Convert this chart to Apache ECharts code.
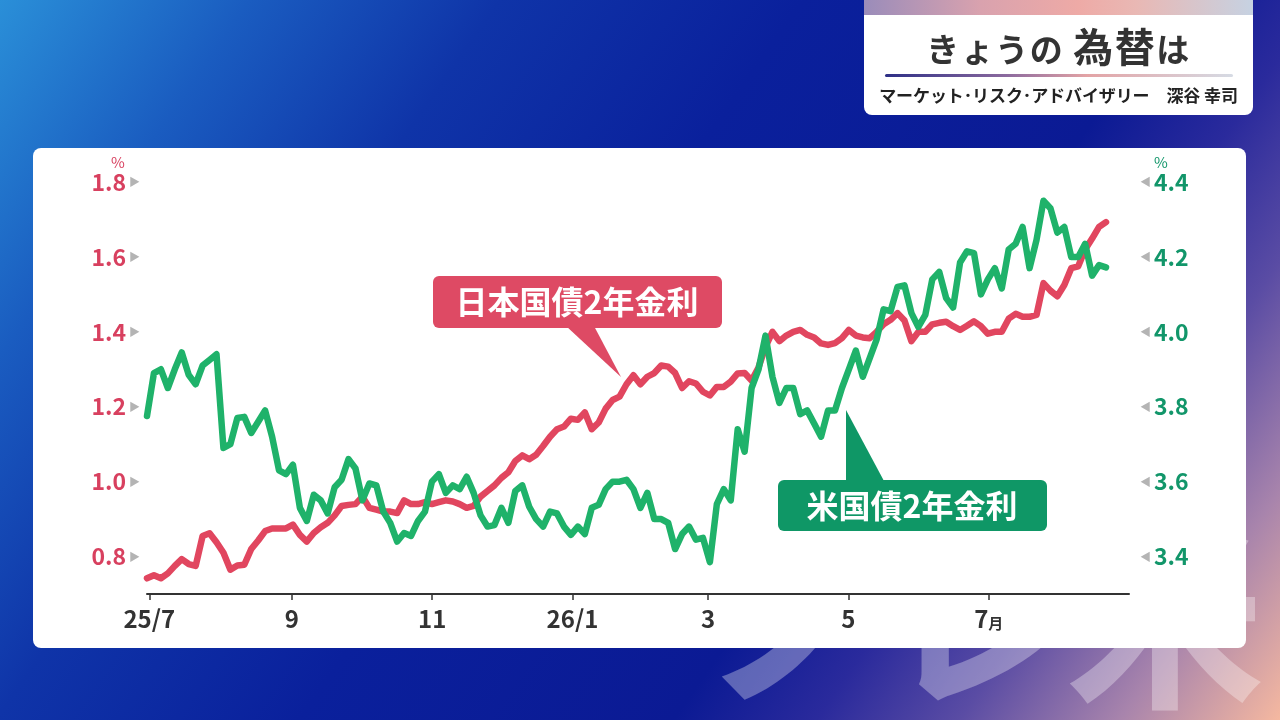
<!DOCTYPE html>
<html lang="ja">
<head>
<meta charset="utf-8">
<title>きょうの為替は</title>
<script src="https://cdn.jsdelivr.net/npm/echarts@6/dist/echarts.min.js"></script>
<style>
  html, body { margin: 0; padding: 0; width: 1280px; height: 720px; overflow: hidden; }
  body {
    position: relative;
    font-family: "Noto Sans CJK JP", "Noto Sans", sans-serif;
    background: linear-gradient(125deg, #2a8fd8 0%, #1a5cc0 14%, #0f34a8 28%, #0a209c 45%,
      #0b1a94 66%, #2a2a9c 74%, #5a4ca4 82%, #a884ac 91%, #f5b8a0 100%);
  }
  .wm { position: absolute; top: 505px; color: rgba(255, 255, 255, 0.32); font-weight: 700; font-size: 200px; line-height: 1; }
  .panel { position: absolute; left: 33px; top: 148px; width: 1213px; height: 500px; background: #fff; border-radius: 8px; }
  #chart { position: absolute; left: 0; top: 0; width: 1280px; height: 720px; }
  .titlebox { position: absolute; left: 864px; top: 0; width: 389px; height: 115px; background: #fff;
    border-radius: 0 0 8px 8px; overflow: hidden; }
  .strip { height: 15px; background: linear-gradient(90deg, #9a8cba 0%, #d9a2ae 30%, #eeaaa6 55%, #e9b8b4 70%, #c6d2e2 100%); }
  .title { position: absolute; top: 22px; left: 0; width: 100%; text-align: center; font-size: 33px;
    font-weight: 700; color: #333; line-height: 46px; letter-spacing: 1.5px; }
  .title .big { font-size: 40px; }
  .rule { position: absolute; left: 21px; top: 74px; width: 348px; height: 3px; border-radius: 2px;
    background: linear-gradient(90deg, #2d2f86 0%, #8c6a9e 35%, #e3a3a5 58%, #d6dbe4 100%); }
  .sub { position: absolute; top: 83px; left: 0; width: 100%; text-align: center; font-size: 17px;
    font-weight: 700; color: #222; line-height: 24px; letter-spacing: -0.1px; }
</style>
</head>
<body>
<div class="wm" style="left:700px;">ノ</div>
<div class="wm" style="left:880px;">レ</div>
<div class="wm" style="left:1065px;">米</div>
<div class="panel"></div>
<div id="chart"></div>
<div class="titlebox">
  <div class="strip"></div>
  <div class="title">きょうの <span class="big">為替</span>は</div>
  <div class="rule"></div>
  <div class="sub">マーケット･リスク･アドバイザリー　深谷 幸司</div>
</div>
<script>
// 日数は2025/7/1からの経過日数
var dayFirst = -1;   // 2025/6/30
var dayLast = 416;   // 2026/8/21

// 日本国債2年金利 (%)
var jgbValues = [
  0.742, 0.75, 0.742, 0.755, 0.775, 0.793, 0.78, 0.775, 0.855, 0.862,
  0.838, 0.81, 0.765, 0.776, 0.778, 0.82, 0.843, 0.868, 0.875, 0.875,
  0.875, 0.885, 0.858, 0.84, 0.863, 0.878, 0.89, 0.91, 0.935, 0.938,
  0.94, 0.96, 0.93, 0.925, 0.92, 0.92, 0.916, 0.95, 0.94, 0.94,
  0.945, 0.94, 0.945, 0.95, 0.947, 0.94, 0.93, 0.935, 0.96, 0.975,
  0.99, 1.01, 1.025, 1.055, 1.07, 1.06, 1.072, 1.095, 1.12, 1.14,
  1.147, 1.168, 1.165, 1.185, 1.14, 1.158, 1.195, 1.218, 1.227, 1.26,
  1.284, 1.26, 1.28, 1.29, 1.31, 1.307, 1.29, 1.25, 1.268, 1.262,
  1.24, 1.23, 1.253, 1.253, 1.267, 1.289, 1.29, 1.27, 1.305, 1.36,
  1.40, 1.375, 1.39, 1.40, 1.405, 1.392, 1.385, 1.369, 1.365, 1.37,
  1.383, 1.405, 1.39, 1.385, 1.383, 1.40, 1.42, 1.432, 1.45, 1.43,
  1.375, 1.40, 1.40, 1.42, 1.424, 1.427, 1.415, 1.405, 1.416, 1.428,
  1.415, 1.395, 1.40, 1.40, 1.435, 1.448, 1.44, 1.44, 1.445, 1.53,
  1.51, 1.495, 1.525, 1.57, 1.575, 1.62, 1.649, 1.68, 1.693
];

// 米国債2年金利 (%)
var ustValues = [
  3.775, 3.89, 3.90, 3.85, 3.90, 3.945, 3.885, 3.86, 3.91, 3.925,
  3.94, 3.69, 3.70, 3.77, 3.773, 3.73, 3.76, 3.79, 3.72, 3.63,
  3.62, 3.645, 3.53, 3.495, 3.565, 3.55, 3.515, 3.585, 3.605, 3.66,
  3.635, 3.55, 3.595, 3.59, 3.52, 3.49, 3.44, 3.463, 3.455, 3.495,
  3.52, 3.60, 3.62, 3.57, 3.59, 3.58, 3.613, 3.57, 3.51, 3.48,
  3.484, 3.53, 3.49, 3.575, 3.59, 3.533, 3.50, 3.48, 3.52, 3.515,
  3.48, 3.458, 3.48, 3.46, 3.53, 3.538, 3.58, 3.60, 3.60, 3.605,
  3.58, 3.53, 3.57, 3.50, 3.50, 3.49, 3.42, 3.46, 3.48, 3.445,
  3.45, 3.385, 3.54, 3.58, 3.55, 3.74, 3.68, 3.85, 3.90, 3.99,
  3.88, 3.81, 3.85, 3.85, 3.78, 3.79, 3.755, 3.72, 3.79, 3.79,
  3.85, 3.90, 3.95, 3.88, 3.93, 3.98, 4.06, 4.055, 4.12, 4.124,
  4.05, 4.013, 4.045, 4.14, 4.16, 4.09, 4.065, 4.185, 4.215, 4.21,
  4.10, 4.14, 4.17, 4.116, 4.22, 4.235, 4.28, 4.17, 4.245, 4.35,
  4.33, 4.265, 4.28, 4.20, 4.20, 4.235, 4.15, 4.178, 4.172
];

// 目盛り
var monthDays = [0, 62, 123, 184, 243, 304, 365];
var monthLabels = ['25/7', '9', '11', '26/1', '3', '5', '7月'];
var jgbTicks = [0.8, 1.0, 1.2, 1.4, 1.6, 1.8];
var ustTicks = [3.4, 3.6, 3.8, 4.0, 4.2, 4.4];

var FONT = '"Noto Sans CJK JP", "Noto Sans", sans-serif';
var RED = '#e1465f';
var GREEN = '#1fb26a';

function toPairs(values) {
  var step = (dayLast - dayFirst) / (values.length - 1);
  return values.map(function (v, i) { return [dayFirst + i * step, v]; });
}

var option = {
  animation: false,
  backgroundColor: 'transparent',
  textStyle: { fontFamily: FONT },
  grid: { left: 147, right: 151, top: 182, bottom: 126 },
  xAxis: {
    type: 'value',
    min: -1,
    max: 426,
    axisLine: { lineStyle: { color: '#333', width: 2 } },
    axisTick: { show: true, customValues: monthDays, length: 6, lineStyle: { color: '#333', width: 1.5 } },
    axisLabel: {
      customValues: monthDays,
      margin: 13,
      color: '#333',
      fontSize: 24,
      fontWeight: 'bold',
      fontFamily: FONT,
      formatter: function (v) {
        var s = monthLabels[monthDays.indexOf(v)] || '';
        return s.replace('月', '{m|月}');
      },
      rich: { m: { fontSize: 15, fontWeight: 'bold', color: '#333', fontFamily: FONT, padding: [8, 0, 0, 0] } }
    },
    splitLine: { show: false }
  },
  yAxis: [{
    type: 'value',
    position: 'left',
    min: 0.7,
    max: 1.8,
    axisLine: { show: false },
    axisTick: { show: false },
    splitLine: { show: false },
    axisLabel: {
      customValues: jgbTicks,
      margin: 7,
      formatter: function (v) { return '{v|' + v.toFixed(1) + '}{t|▶}'; },
      rich: {
        v: { color: '#d8405f', fontSize: 23, fontWeight: 600, fontFamily: FONT },
        t: { color: '#b4b4b4', fontSize: 11, padding: [0, 0, 0, 3], fontFamily: FONT }
      }
    }
  }, {
    type: 'value',
    position: 'right',
    min: 3.3,
    max: 4.4,
    axisLine: { show: false },
    axisTick: { show: false },
    splitLine: { show: false },
    axisLabel: {
      customValues: ustTicks,
      margin: 11,
      formatter: function (v) { return '{t|◀}{v|' + v.toFixed(1) + '}'; },
      rich: {
        v: { color: '#12966a', fontSize: 23, fontWeight: 600, fontFamily: FONT },
        t: { color: '#b4b4b4', fontSize: 11, padding: [0, 3, 0, 0], fontFamily: FONT }
      }
    }
  }],
  series: [{
    name: '日本国債2年金利',
    type: 'line',
    yAxisIndex: 0,
    data: toPairs(jgbValues),
    showSymbol: false,
    lineStyle: { color: RED, width: 6.5, join: 'round', cap: 'round' },
    itemStyle: { color: RED }
  }, {
    name: '米国債2年金利',
    type: 'line',
    yAxisIndex: 1,
    data: toPairs(ustValues),
    showSymbol: false,
    lineStyle: { color: GREEN, width: 6.5, join: 'round', cap: 'round' },
    itemStyle: { color: GREEN }
  }],
  graphic: [
    // 単位
    { type: 'text', x: 118, y: 162, z: 10,
      style: { text: '%', fill: '#d8405f', font: '15px ' + FONT, align: 'center', verticalAlign: 'middle' } },
    { type: 'text', x: 1161, y: 162, z: 10,
      style: { text: '%', fill: '#12966a', font: '15px ' + FONT, align: 'center', verticalAlign: 'middle' } },
    // 吹き出し: 日本国債
    { type: 'polygon', z: 10, shape: { points: [[566, 326], [594, 326], [621, 377]] }, style: { fill: '#de4a64' } },
    { type: 'rect', z: 10, shape: { x: 433, y: 276, width: 289, height: 52, r: 6 }, style: { fill: '#de4a64' } },
    { type: 'text', z: 11, x: 577, y: 302,
      style: { text: '日本国債2年金利', fill: '#fff', font: 'bold 32px ' + FONT, align: 'center', verticalAlign: 'middle' } },
    // 吹き出し: 米国債
    { type: 'polygon', z: 10, shape: { points: [[846, 410], [846, 481], [884, 481]] }, style: { fill: '#0f9766' } },
    { type: 'rect', z: 10, shape: { x: 778, y: 480, width: 269, height: 51, r: 6 }, style: { fill: '#0f9766' } },
    { type: 'text', z: 11, x: 912, y: 506,
      style: { text: '米国債2年金利', fill: '#fff', font: 'bold 32px ' + FONT, align: 'center', verticalAlign: 'middle' } }
  ]
};

var chart = echarts.init(document.getElementById('chart'));
chart.setOption(option);
</script>
</body>
</html>
